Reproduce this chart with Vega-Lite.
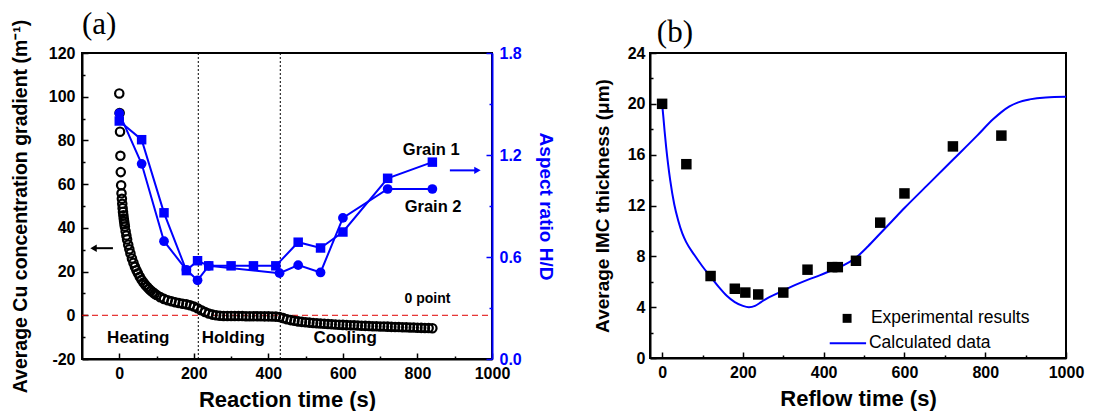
{
  "$schema": "https://vega.github.io/schema/vega-lite/v6.json",
  "background": "white",
  "padding": {"left": 9, "top": 8, "right": 5, "bottom": 0},
  "spacing": 36,
  "config": {
    "view": {"stroke": "black", "strokeWidth": 2},
    "font": "Liberation Sans",
    "axis": {
      "grid": false,
      "labelFont": "Liberation Sans",
      "labelFontWeight": "bold",
      "labelFontSize": 16,
      "labelColor": "black",
      "titleFont": "Liberation Sans",
      "titleFontWeight": "bold",
      "titleColor": "black",
      "domainColor": "black",
      "domainWidth": 2,
      "tickColor": "black",
      "tickWidth": 1.5,
      "labelPadding": 13
    }
  },
  "datasets": {
    "conc": [
      {"t":0,"v":101.5},{"t":1,"v":92.5},{"t":2,"v":84},{"t":3,"v":73},{"t":4,"v":65.5},{"t":5,"v":59.5},{"t":6,"v":55.8},{"t":7,"v":53.3},{"t":8,"v":51},{"t":9,"v":49},{"t":10,"v":47.3},{"t":11,"v":45.8},{"t":12,"v":44.3},{"t":13,"v":43},{"t":14,"v":41.8},{"t":15,"v":40.6},{"t":17,"v":38.5},{"t":19,"v":36.5},{"t":21,"v":34.7},{"t":24,"v":32.3},{"t":27,"v":30.2},{"t":30,"v":28.3},{"t":34,"v":26},{"t":38,"v":24},{"t":42,"v":22.2},{"t":46,"v":20.6},{"t":50,"v":19.2},{"t":55,"v":17.6},{"t":60,"v":16.2},{"t":65,"v":15},{"t":70,"v":13.9},{"t":75,"v":12.9},{"t":80,"v":12},{"t":85,"v":11.2},{"t":90,"v":10.5},{"t":95,"v":9.9},{"t":100,"v":9.3},{"t":110,"v":8.3},{"t":120,"v":7.5},{"t":130,"v":6.9},{"t":140,"v":6.4},{"t":150,"v":6.0},{"t":160,"v":5.6},{"t":170,"v":5.3},{"t":180,"v":5.0},{"t":190,"v":4.6},{"t":200,"v":4.0},{"t":210,"v":3.2},{"t":220,"v":2.3},{"t":230,"v":1.5},{"t":240,"v":0.8},{"t":250,"v":0.3},{"t":260,"v":0},{"t":270,"v":-0.2},{"t":280,"v":-0.3},{"t":290,"v":-0.3},{"t":300,"v":-0.3},{"t":310,"v":-0.3},{"t":320,"v":-0.35},{"t":330,"v":-0.35},{"t":340,"v":-0.4},{"t":350,"v":-0.4},{"t":360,"v":-0.4},{"t":370,"v":-0.45},{"t":380,"v":-0.45},{"t":390,"v":-0.5},{"t":400,"v":-0.5},{"t":410,"v":-0.55},{"t":420,"v":-0.6},{"t":430,"v":-0.8},{"t":440,"v":-1.3},{"t":450,"v":-1.8},{"t":460,"v":-2.2},{"t":470,"v":-2.5},{"t":480,"v":-2.8},{"t":490,"v":-3.0},{"t":500,"v":-3.2},{"t":510,"v":-3.35},{"t":520,"v":-3.5},{"t":530,"v":-3.65},{"t":540,"v":-3.8},{"t":550,"v":-3.9},{"t":560,"v":-4.0},{"t":570,"v":-4.1},{"t":580,"v":-4.2},{"t":590,"v":-4.3},{"t":600,"v":-4.4},{"t":610,"v":-4.5},{"t":620,"v":-4.55},{"t":630,"v":-4.6},{"t":640,"v":-4.7},{"t":650,"v":-4.8},{"t":660,"v":-4.85},{"t":670,"v":-4.9},{"t":680,"v":-5.0},{"t":690,"v":-5.05},{"t":700,"v":-5.1},{"t":710,"v":-5.15},{"t":720,"v":-5.2},{"t":730,"v":-5.3},{"t":740,"v":-5.35},{"t":750,"v":-5.4},{"t":760,"v":-5.45},{"t":770,"v":-5.5},{"t":780,"v":-5.55},{"t":790,"v":-5.6},{"t":800,"v":-5.7},{"t":810,"v":-5.75},{"t":820,"v":-5.8},{"t":830,"v":-5.85},{"t":840,"v":-5.9}
    ],
    "grain1": [
      {"t":0,"r":1.40},{"t":60,"r":1.29},{"t":120,"r":0.86},{"t":180,"r":0.52},{"t":210,"r":0.578},{"t":240,"r":0.548},{"t":300,"r":0.548},{"t":360,"r":0.548},{"t":420,"r":0.548},{"t":480,"r":0.687},{"t":540,"r":0.653},{"t":600,"r":0.747},{"t":720,"r":1.063},{"t":840,"r":1.158}
    ],
    "grain2": [
      {"t":0,"r":1.445},{"t":60,"r":1.148},{"t":120,"r":0.693},{"t":180,"r":0.525},{"t":210,"r":0.463},{"t":240,"r":0.548},{"t":430,"r":0.505},{"t":480,"r":0.552},{"t":540,"r":0.509},{"t":600,"r":0.83},{"t":720,"r":1.0},{"t":840,"r":1.0}
    ],
    "exp": [
      {"t":0,"v":20},{"t":60,"v":15.25},{"t":120,"v":6.45},{"t":180,"v":5.45},{"t":206,"v":5.15},{"t":238,"v":5.0},{"t":300,"v":5.15},{"t":360,"v":6.95},{"t":421,"v":7.15},{"t":435,"v":7.15},{"t":480,"v":7.65},{"t":540,"v":10.65},{"t":600,"v":12.95},{"t":720,"v":16.65},{"t":840,"v":17.5}
    ],
    "calc": [
      {"t":0,"v":20},{"t":3,"v":19},{"t":6,"v":17.9},{"t":10,"v":16.6},{"t":15,"v":15.2},{"t":20,"v":14.0},{"t":30,"v":12.1},{"t":40,"v":10.8},{"t":50,"v":9.8},{"t":60,"v":9.1},{"t":80,"v":8.1},{"t":100,"v":7.2},{"t":120,"v":6.4},{"t":140,"v":5.6},{"t":160,"v":4.9},{"t":180,"v":4.4},{"t":200,"v":4.1},{"t":215,"v":4.0},{"t":230,"v":4.1},{"t":245,"v":4.4},{"t":260,"v":4.7},{"t":280,"v":5.0},{"t":300,"v":5.3},{"t":330,"v":5.75},{"t":360,"v":6.15},{"t":390,"v":6.5},{"t":420,"v":6.9},{"t":450,"v":7.3},{"t":480,"v":7.9},{"t":510,"v":8.8},{"t":540,"v":9.8},{"t":570,"v":10.8},{"t":600,"v":11.8},{"t":660,"v":13.7},{"t":720,"v":15.6},{"t":780,"v":17.5},{"t":820,"v":18.8},{"t":840,"v":19.35},{"t":860,"v":19.8},{"t":880,"v":20.1},{"t":910,"v":20.35},{"t":950,"v":20.5},{"t":1000,"v":20.55}
    ]
  },
  "hconcat": [
    {
      "width": 410,
      "height": 306,
      "encoding": {
        "x": {
          "field": "t", "type": "quantitative",
          "scale": {"domain": [-100, 1000], "nice": false, "zero": false},
          "axis": {
            "title": "Reaction time (s)", "titleFontSize": 22, "titlePadding": 8,
            "values": [0, 100, 200, 300, 400, 500, 600, 700, 800, 900, 1000],
            "format": "d",
            "labelPadding": 12,
            "labelFlush": false,
            "labelExpr": "datum.value % 200 === 0 ? datum.label : ''",
            "tickSize": {"condition": {"test": "datum.value % 200 === 0", "value": -6}, "value": -3}
          }
        }
      },
      "layer": [
        {
          "encoding": {
            "y": {
              "field": "v", "type": "quantitative",
              "scale": {"domain": [-20, 120], "nice": false, "zero": false},
              "axis": {
                "title": "Average Cu concentration gradient (m⁻¹)", "titleFontSize": 19.5, "titlePadding": 18,
                "values": [-20, -10, 0, 10, 20, 30, 40, 50, 60, 70, 80, 90, 100, 110, 120],
                "format": "d",
                "labelExpr": "datum.value % 20 === 0 ? replace(datum.label, '−', '-') : ''",
                "tickSize": {"condition": {"test": "datum.value % 20 === 0", "value": -6}, "value": -3}
              }
            }
          },
          "layer": [
            {
              "data": {"values": [{"t": -100, "t2": 1000, "v": 0}]},
              "mark": {"type": "rule", "color": "#e00000", "strokeDash": [6, 4], "strokeWidth": 1},
              "encoding": {"x2": {"field": "t2"}}
            },
            {
              "data": {"values": [{"t": 212, "v": -20, "v2": 120}, {"t": 432, "v": -20, "v2": 120}]},
              "mark": {"type": "rule", "color": "black", "strokeDash": [2, 2], "strokeWidth": 1},
              "encoding": {"y2": {"field": "v2"}}
            },
            {
              "data": {"name": "conc"},
              "mark": {"type": "point", "shape": "circle", "filled": false, "color": "black", "strokeWidth": 2.2, "size": 70, "opacity": 1}
            },
            {
              "data": {"values": [{"label": "Heating", "t": 51, "v": -10.3}, {"label": "Holding", "t": 306, "v": -10.3}, {"label": "Cooling", "t": 606, "v": -10.3}]},
              "mark": {"type": "text", "font": "Liberation Sans", "fontWeight": "bold", "fontSize": 17, "color": "black", "align": "center", "baseline": "middle"},
              "encoding": {"text": {"field": "label"}}
            },
            {
              "data": {"values": [{"label": "Grain 1", "t": 837, "v": 75.8}, {"label": "Grain 2", "t": 842, "v": 49.6}]},
              "mark": {"type": "text", "font": "Liberation Sans", "fontWeight": "bold", "fontSize": 16.5, "color": "black", "align": "center", "baseline": "middle"},
              "encoding": {"text": {"field": "label"}}
            },
            {
              "data": {"values": [{"label": "0 point", "t": 827, "v": 7.3}]},
              "mark": {"type": "text", "font": "Liberation Sans", "fontWeight": "bold", "fontSize": 14, "color": "black", "align": "center", "baseline": "middle"},
              "encoding": {"text": {"field": "label"}}
            },
            {
              "data": {"values": [{"label": "(a)", "t": -100, "v": 128.6}]},
              "mark": {"type": "text", "font": "Liberation Serif", "fontSize": 31, "color": "black", "align": "left", "baseline": "alphabetic"},
              "encoding": {"text": {"field": "label"}}
            },
            {
              "data": {"values": [{"t": -70, "t2": -17, "v": 30.7}]},
              "mark": {"type": "rule", "color": "black", "strokeWidth": 2},
              "encoding": {"x2": {"field": "t2"}}
            },
            {
              "data": {"values": [{"t": -69, "v": 30.7}]},
              "mark": {"type": "point", "shape": "triangle-left", "filled": true, "color": "black", "size": 55, "opacity": 1}
            },
            {
              "data": {"values": [{"t": 887, "t2": 960, "v": 66.3}]},
              "mark": {"type": "rule", "color": "#0000ff", "strokeWidth": 2},
              "encoding": {"x2": {"field": "t2"}}
            },
            {
              "data": {"values": [{"t": 961, "v": 66.3}]},
              "mark": {"type": "point", "shape": "triangle-right", "filled": true, "color": "#0000ff", "size": 55, "opacity": 1}
            }
          ]
        },
        {
          "encoding": {
            "y": {
              "field": "r", "type": "quantitative",
              "scale": {"domain": [0, 1.8], "nice": false, "zero": false},
              "axis": {
                "orient": "right",
                "title": "Aspect ratio H/D", "titleFontSize": 19, "titleColor": "#0000ff", "titlePadding": 14,
                "values": [0, 0.3, 0.6, 0.9, 1.2, 1.5, 1.8],
                "labelExpr": "round(datum.value * 10) % 6 === 0 ? format(datum.value, '.1f') : ''",
                "labelColor": "#0000ff", "domainColor": "#0000ff", "tickColor": "#0000ff",
                "tickSize": {"condition": {"test": "round(datum.value * 10) % 6 === 0", "value": -6}, "value": -3}
              }
            }
          },
          "layer": [
            {
              "data": {"name": "grain1"},
              "mark": {"type": "line", "color": "#0000ff", "strokeWidth": 2, "point": {"shape": "square", "filled": true, "color": "#0000ff", "size": 90, "opacity": 1}}
            },
            {
              "data": {"name": "grain2"},
              "mark": {"type": "line", "color": "#0000ff", "strokeWidth": 2, "point": {"shape": "circle", "filled": true, "color": "#0000ff", "size": 95, "opacity": 1}}
            }
          ]
        }
      ],
      "resolve": {"scale": {"y": "independent"}}
    },
    {
      "width": 416,
      "height": 305,
      "encoding": {
        "x": {
          "field": "t", "type": "quantitative",
          "scale": {"domain": [-30, 1000], "nice": false, "zero": false},
          "axis": {
            "title": "Reflow time (s)", "titleFontSize": 22, "titlePadding": 8,
            "values": [0, 100, 200, 300, 400, 500, 600, 700, 800, 900, 1000],
            "format": "d",
            "labelPadding": 12,
            "labelFlush": false,
            "labelExpr": "datum.value % 200 === 0 ? datum.label : ''",
            "tickSize": {"condition": {"test": "datum.value % 200 === 0", "value": -6}, "value": -3}
          }
        },
        "y": {
          "field": "v", "type": "quantitative",
          "scale": {"domain": [0, 24], "nice": false, "zero": false},
          "axis": {
            "title": "Average IMC thickness (μm)", "titleFontSize": 19, "titlePadding": 15,
            "values": [0, 2, 4, 6, 8, 10, 12, 14, 16, 18, 20, 22, 24],
            "format": "d",
            "labelPadding": 11,
            "labelExpr": "datum.value % 4 === 0 ? datum.label : ''",
            "tickSize": {"condition": {"test": "datum.value % 4 === 0", "value": -6}, "value": -3}
          }
        }
      },
      "layer": [
        {
          "data": {"name": "calc"},
          "mark": {"type": "line", "color": "#0000ff", "strokeWidth": 2, "interpolate": "monotone"}
        },
        {
          "data": {"name": "exp"},
          "mark": {"type": "point", "shape": "square", "filled": true, "color": "black", "size": 110, "opacity": 1}
        },
        {
          "data": {"values": [{"t": 458, "v": 3.12}]},
          "mark": {"type": "point", "shape": "square", "filled": true, "color": "black", "size": 80, "opacity": 1}
        },
        {
          "data": {"values": [{"t": 415, "t2": 505, "v": 1.17}]},
          "mark": {"type": "rule", "color": "#0000ff", "strokeWidth": 2},
          "encoding": {"x2": {"field": "t2"}}
        },
        {
          "data": {"values": [{"label": "Experimental results", "t": 517, "v": 3.12}, {"label": "Calculated data", "t": 512, "v": 1.17}]},
          "mark": {"type": "text", "font": "Liberation Sans", "fontSize": 17.5, "color": "black", "align": "left", "baseline": "middle"},
          "encoding": {"text": {"field": "label"}}
        },
        {
          "data": {"values": [{"label": "(b)", "t": -13, "v": 24.87}]},
          "mark": {"type": "text", "font": "Liberation Serif", "fontSize": 31, "color": "black", "align": "left", "baseline": "alphabetic"},
          "encoding": {"text": {"field": "label"}}
        }
      ]
    }
  ]
}
